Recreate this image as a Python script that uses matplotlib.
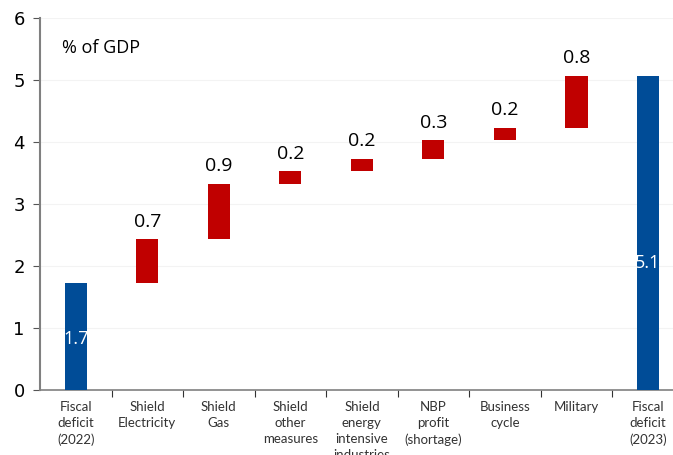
import numpy as np
import matplotlib.pyplot as plt

# waterfall data, % of GDP
categories = ['Fiscal\ndeficit\n(2022)', 'Shield\nElectricity', 'Shield\nGas',
              'Shield\nother\nmeasures', 'Shield\nenergy\nintensive\nindustries',
              'NBP\nprofit\n(shortage)', 'Business\ncycle', 'Military',
              'Fiscal\ndeficit\n(2023)']
start_value = 1.73
changes = [0.70, 0.90, 0.20, 0.20, 0.30, 0.20, 0.84]
labels = ['1.7', '0.7', '0.9', '0.2', '0.2', '0.3', '0.2', '0.8', '5.1']

BLUE = '#004c97'
RED = '#c00000'

fig = plt.figure(figsize=(6.73, 4.55), dpi=100)
ax = fig.add_axes([40 / 673, 1 - 390 / 455, 633 / 673, (390 - 18) / 455])

x = np.arange(len(categories))
w = 0.31
end_value = start_value + sum(changes)
bottoms = start_value + np.concatenate([[0], np.cumsum(changes)[:-1]])

ax.bar(x[0], start_value, width=w, color=BLUE, zorder=3)
ax.bar(x[-1], end_value, width=w, color=BLUE, zorder=3)
ax.bar(x[1:-1], changes, bottom=bottoms, width=w, color=RED, zorder=3)

# labels inside the totals
ax.text(x[0], start_value * 0.48, labels[0], color='white', ha='center',
        va='center', fontsize=13, family='Open Sans', zorder=4)
ax.text(x[-1], end_value * 0.405, labels[-1], color='white', ha='center',
        va='center', fontsize=13, family='Open Sans', zorder=4)
# labels above the increments
for xi, b, c, lab in zip(x[1:-1], bottoms, changes, labels[1:-1]):
    ax.annotate(lab, (xi, b + c), xytext=(0, 6), textcoords='offset points',
                ha='center', va='bottom', fontsize=14, family='Open Sans')

ax.set_ylim(0, 6)
ax.set_xlim(-0.5, 8.35)
ax.set_yticks(range(7))
ax.tick_params(axis='y', labelsize=13, length=5, color='#555555', pad=6)
ax.yaxis.grid(True, color='#f3f3f3', lw=0.8, zorder=0)

ax.set_xticks(x[:-1] + 0.5)
ax.set_xticklabels([])
ax.set_xticks(x, minor=True)
ax.set_xticklabels(categories, minor=True, fontsize=9.5, family='Lato',
                   linespacing=1.4, color='#333333')
ax.tick_params(axis='x', which='major', length=5, color='#333333')
ax.tick_params(axis='x', which='minor', length=0, pad=8)

for s in ['top', 'right']:
    ax.spines[s].set_visible(False)
ax.spines['left'].set_color('#808080')
ax.spines['left'].set_linewidth(1.5)
ax.spines['bottom'].set_color('#808080')
ax.spines['bottom'].set_linewidth(1.2)

ax.text(0.035, 0.92, '% of GDP', transform=ax.transAxes, fontsize=13,
        family='Open Sans', va='center')

fig.savefig('out.png', dpi=100)
